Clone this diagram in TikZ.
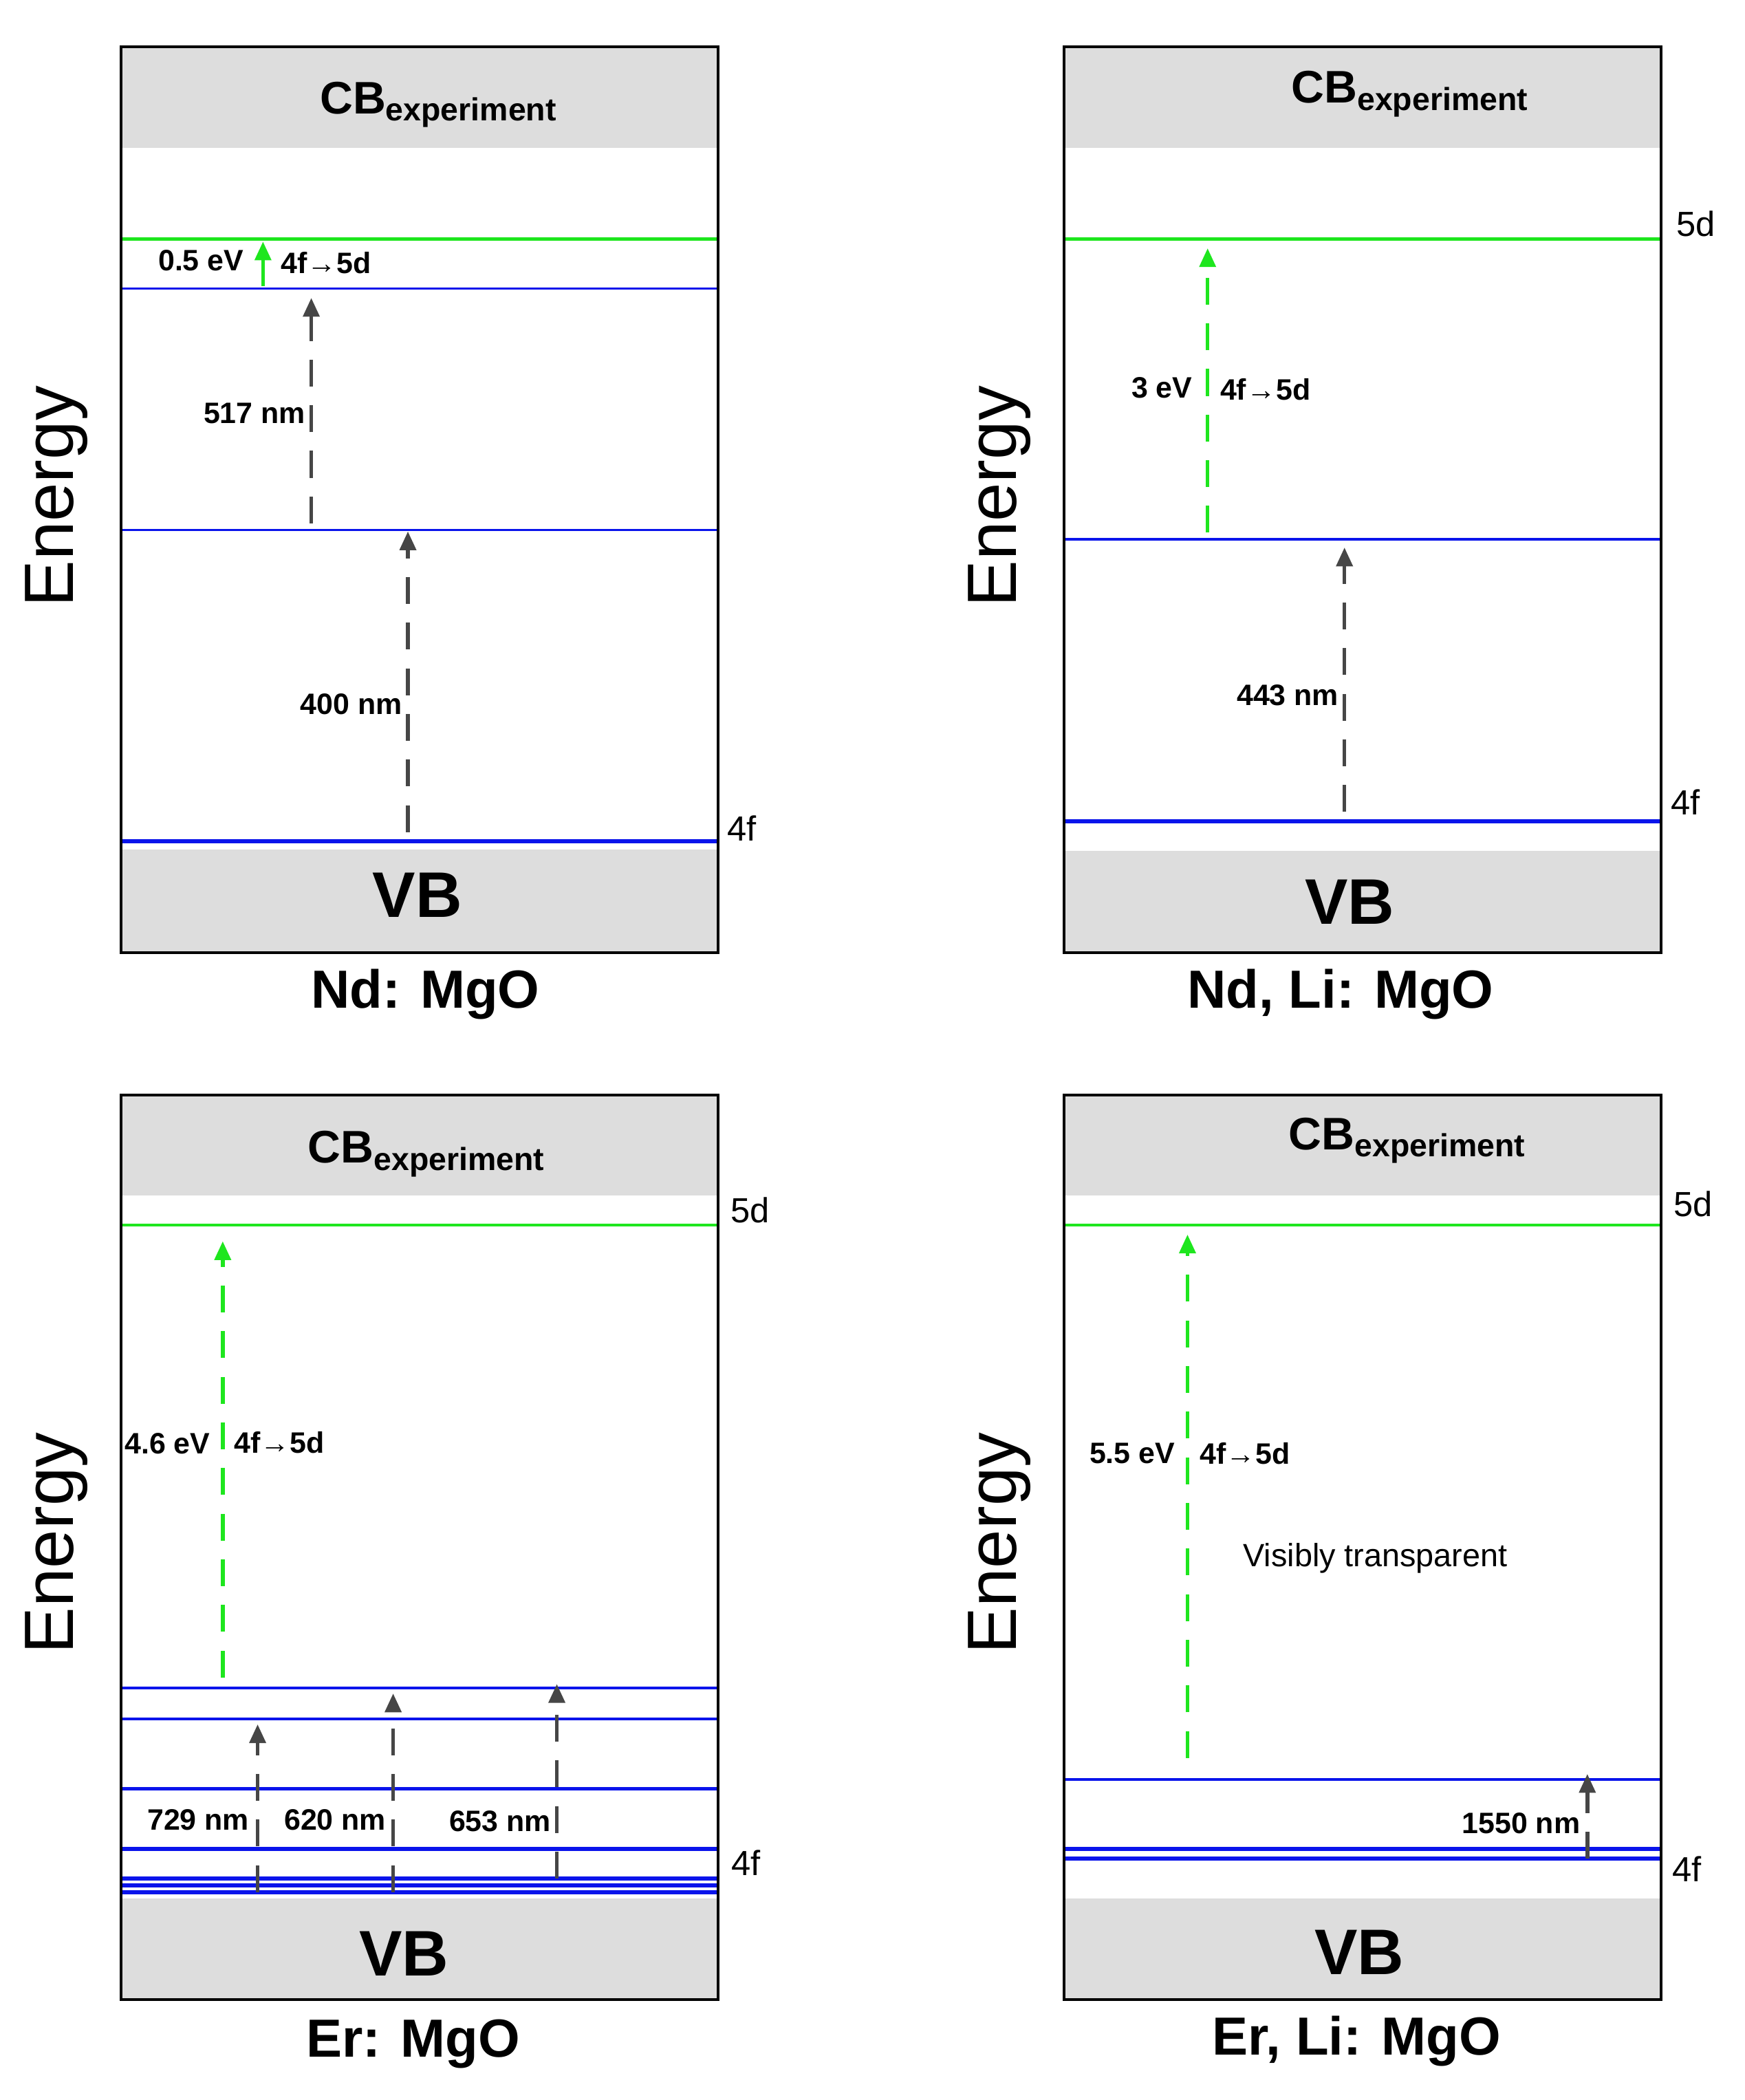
\documentclass[tikz,border=0pt]{standalone}
\usepackage{fontspec}
\setmainfont{Liberation Sans}
\usetikzlibrary{arrows.meta}
\definecolor{gbar}{RGB}{221,221,221}
\definecolor{lgreen}{RGB}{30,230,30}
\definecolor{lblue}{RGB}{10,20,235}
\definecolor{darr}{RGB}{70,70,70}
\begin{document}
\begin{tikzpicture}[x=0.5pt,y=-0.5pt,
  box/.style={draw=black,line width=1pt},
  bar/.style={fill=gbar},
  gl/.style={draw=lgreen,line width=1.2pt},
  bl/.style={draw=lblue,line width=0.9pt},
  blt/.style={draw=lblue,line width=1.5pt},
  garr/.style={draw=darr,line width=1.4pt,dash pattern=on 10pt off 7pt,-{Triangle[length=7pt,width=6pt]}},
  grn/.style={draw=lgreen,line width=1.4pt,dash pattern=on 10pt off 7pt,-{Triangle[length=7pt,width=6pt]}},
  grs/.style={draw=lgreen,line width=1.4pt,-{Triangle[length=7pt,width=6pt]}},
  cb/.style={font=\bfseries\fontsize{17}{20}\selectfont},
  vb/.style={font=\bfseries\fontsize{24}{28}\selectfont},
  en/.style={rotate=90,font=\fontsize{26}{30}\selectfont},
  ttl/.style={font=\bfseries\fontsize{20}{24}\selectfont},
  lbl/.style={font=\bfseries\fontsize{11}{13}\selectfont,inner sep=1pt},
  lev/.style={font=\fontsize{13}{15}\selectfont}]
\useasboundingbox (0,0) rectangle (1300,1565);
% ===== Panel 1
\fill[bar] (90,35) rectangle (535,110);
\fill[bar] (90,633) rectangle (535,710);
\draw[gl] (90,178) -- (535,178);
\draw[bl] (90,215) -- (535,215);
\draw[bl] (90,395) -- (535,395);
\draw[blt] (90,627) -- (535,627);
\draw[box] (90,35) rectangle (535,710);
\node[cb] (cb1) at (327,78) {CB\textsubscript{experiment}};
\node[vb] (vb1) at (311,667) {VB};
\node[ttl] (t1) at (317,741) {Nd: MgO};
\node[en] (e1) at (42,370) {Energy};
\node[lev] (f1) at (553,617) {4f};
\coordinate (a1s) at (196,213); \coordinate (a1e) at (196,180);
\draw[grs] (a1s) -- (a1e);
\node[lbl,anchor=east] (l1a) at (184,194) {0.5 eV};
\node[lbl,anchor=west] (l1b) at (207,196) {4f→5d};
\coordinate (a2s) at (232,390); \coordinate (a2e) at (232,222);
\draw[garr] (a2s) -- (a2e);
\node[lbl,anchor=east] (l1c) at (230,308) {517 nm};
\coordinate (a3s) at (304,620); \coordinate (a3e) at (304,396);
\draw[garr] (a3s) -- (a3e);
\node[lbl,anchor=east] (l1d) at (302,525) {400 nm};
% ===== Panel 2
\fill[bar] (793,35) rectangle (1238,110);
\fill[bar] (793,634) rectangle (1238,710);
\draw[gl] (793,178) -- (1238,178);
\draw[bl] (793,402) -- (1238,402);
\draw[blt] (793,612) -- (1238,612);
\draw[box] (793,35) rectangle (1238,710);
\node[cb] (cb2) at (1051,70) {CB\textsubscript{experiment}};
\node[vb] (vb2) at (1006,672) {VB};
\node[ttl] (t2) at (999,741) {Nd, Li: MgO};
\node[en] (e2) at (745,370) {Energy};
\node[lev] (d2) at (1264,167) {5d};
\node[lev] (f2) at (1256,598) {4f};
\coordinate (b1s) at (900,397); \coordinate (b1e) at (900,185);
\draw[grn] (b1s) -- (b1e);
\node[lbl,anchor=east] (l2a) at (891,289) {3 eV};
\node[lbl,anchor=west] (l2b) at (907,290) {4f→5d};
\coordinate (b2s) at (1002,605); \coordinate (b2e) at (1002,408);
\draw[garr] (b2s) -- (b2e);
\node[lbl,anchor=east] (l2c) at (1000,518) {443 nm};
% ===== Panel 3
\fill[bar] (90,816) rectangle (535,891);
\fill[bar] (90,1415) rectangle (535,1490);
\draw[gl] (90,913) -- (535,913);
\draw[bl] (90,1258) -- (535,1258);
\draw[bl] (90,1281) -- (535,1281);
\draw[blt] (90,1333) -- (535,1333);
\draw[blt] (90,1378) -- (535,1378);
\draw[blt] (90,1400) -- (535,1400);
\draw[blt] (90,1405) -- (535,1405);
\draw[blt] (90,1410) -- (535,1410);
\draw[box] (90,816) rectangle (535,1490);
\node[cb] (cb3) at (318,860) {CB\textsubscript{experiment}};
\node[vb] (vb3) at (301,1456) {VB};
\node[ttl] (t3) at (308,1523) {Er: MgO};
\node[en] (e3) at (42,1150) {Energy};
\node[lev] (d3) at (559,902) {5d};
\node[lev] (f3) at (556,1388) {4f};
\coordinate (c1s) at (166,1250); \coordinate (c1e) at (166,925);
\draw[grn] (c1s) -- (c1e);
\node[lbl,anchor=east] (l3a) at (159,1076) {4.6 eV};
\node[lbl,anchor=west] (l3b) at (172,1075) {4f→5d};
\coordinate (c2s) at (192,1410); \coordinate (c2e) at (192,1285);
\draw[garr] (c2s) -- (c2e);
\node[lbl,anchor=east] (l3c) at (188,1356) {729 nm};
\coordinate (c3s) at (293,1410); \coordinate (c3e) at (293,1262);
\draw[garr] (c3s) -- (c3e);
\node[lbl,anchor=east] (l3d) at (290,1356) {620 nm};
\coordinate (c4s) at (415,1400); \coordinate (c4e) at (415,1255);
\draw[garr] (c4s) -- (c4e);
\node[lbl,anchor=east] (l3e) at (413,1357) {653 nm};
% ===== Panel 4
\fill[bar] (793,816) rectangle (1238,891);
\fill[bar] (793,1415) rectangle (1238,1490);
\draw[gl] (793,913) -- (1238,913);
\draw[bl] (793,1326) -- (1238,1326);
\draw[blt] (793,1378) -- (1238,1378);
\draw[blt] (793,1385) -- (1238,1385);
\draw[box] (793,816) rectangle (1238,1490);
\node[cb] (cb4) at (1049,850) {CB\textsubscript{experiment}};
\node[vb] (vb4) at (1013,1455) {VB};
\node[ttl] (t4) at (1011,1521) {Er, Li: MgO};
\node[en] (e4) at (745,1150) {Energy};
\node[lev] (d4) at (1262,897) {5d};
\node[lev] (f4) at (1257,1393) {4f};
\coordinate (g1s) at (885,1310); \coordinate (g1e) at (885,920);
\draw[grn] (g1s) -- (g1e);
\node[lbl,anchor=east] (l4a) at (878,1083) {5.5 eV};
\node[lbl,anchor=west] (l4b) at (892,1083) {4f→5d};
\node[font=\fontsize{12}{14}\selectfont] (vt) at (1025,1161) {Visibly transparent};
\coordinate (g2s) at (1183,1385); \coordinate (g2e) at (1183,1322);
\draw[garr] (g2s) -- (g2e);
\node[lbl,anchor=east] (l4c) at (1180,1359) {1550 nm};
\end{tikzpicture}
\end{document}
